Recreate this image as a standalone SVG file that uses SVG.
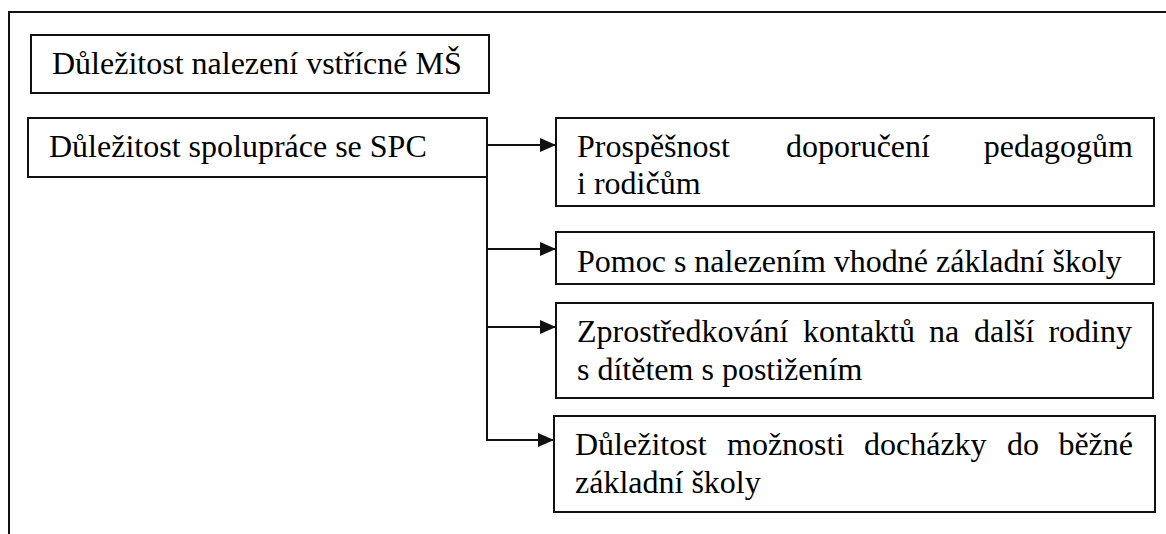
<svg xmlns="http://www.w3.org/2000/svg" width="1166" height="534" viewBox="0 0 1166 534">
<style>
.box{fill:#fff;stroke:#111;stroke-width:2}
.t{font-family:"Liberation Serif","Times New Roman",serif;font-size:32px;fill:#000}
.c{stroke:#111;stroke-width:2;fill:none}
</style>
<defs>
<marker id="ah" markerWidth="16" markerHeight="14" refX="16" refY="7" orient="auto" markerUnits="userSpaceOnUse">
<path d="M0,0 L16,7 L0,14 Z" fill="#111"/>
</marker>
</defs>
<rect width="1166" height="534" fill="#fff"/>
<g id="frame">
<path class="c" d="M9,534 L9,12 L1166,12"/>
</g>
<g id="n1">
<rect class="box" x="31" y="35" width="458" height="58"/>
<text class="t" x="52" y="74">Důležitost nalezení vstřícné MŠ</text>
</g>
<g id="n2">
<rect class="box" x="28" y="118" width="459" height="59"/>
<text class="t" x="49" y="157">Důležitost spolupráce se SPC</text>
</g>
<g id="n3">
<rect class="box" x="556" y="118" width="598" height="88"/>
<text class="t" y="157"><tspan x="577">Prospěšnost</tspan> <tspan x="786">doporučení</tspan> <tspan x="1133" text-anchor="end">pedagogům</tspan></text>
<text class="t" x="577" y="194">i rodičům</text>
</g>
<g id="n4">
<rect class="box" x="556" y="232" width="598" height="52"/>
<text class="t" x="577" y="272">Pomoc s nalezením vhodné základní školy</text>
</g>
<g id="n5">
<rect class="box" x="556" y="303" width="597" height="95"/>
<text class="t" y="342"><tspan x="577">Zprostředkování</tspan> <tspan x="803">kontaktů</tspan> <tspan x="929">na</tspan> <tspan x="974">další</tspan> <tspan x="1132" text-anchor="end">rodiny</tspan></text>
<text class="t" x="577" y="380">s dítětem s postižením</text>
</g>
<g id="n6">
<rect class="box" x="554" y="416" width="601" height="96"/>
<text class="t" y="455"><tspan x="575">Důležitost</tspan> <tspan x="727">možnosti</tspan> <tspan x="864">docházky</tspan> <tspan x="1007">do</tspan> <tspan x="1133" text-anchor="end">běžné</tspan></text>
<text class="t" x="575" y="493">základní školy</text>
</g>
<g id="connectors">
<path class="c" d="M487,177 L487,441"/>
<path class="c" d="M487,145 L556,145" marker-end="url(#ah)"/>
<path class="c" d="M487,249 L556,249" marker-end="url(#ah)"/>
<path class="c" d="M487,327 L556,327" marker-end="url(#ah)"/>
<path class="c" d="M486,440 L554,440" marker-end="url(#ah)"/>
</g>
</svg>
